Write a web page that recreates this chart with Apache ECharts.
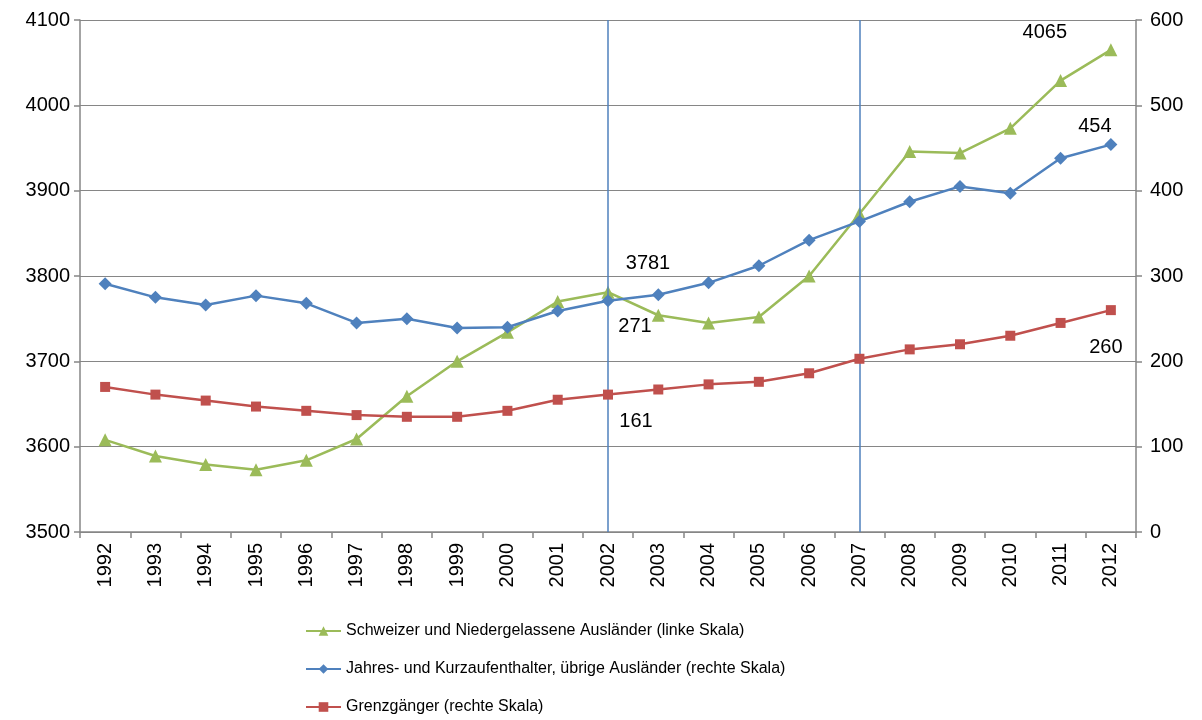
<!DOCTYPE html>
<html>
<head>
<meta charset="utf-8">
<script src="https://cdn.jsdelivr.net/npm/echarts@6/dist/echarts.min.js"></script>
<style>
    html, body { margin: 0; padding: 0; background: #fff; }
    #chart { width: 1202px; height: 720px; }
</style>
</head>
<body>
<div id="chart"></div>
<script>
var years = ['1992', '1993', '1994', '1995', '1996', '1997', '1998', '1999', '2000', '2001', '2002',
    '2003', '2004', '2005', '2006', '2007', '2008', '2009', '2010', '2011', '2012'];

// Schweizer und Niedergelassene Auslaender (linke Skala)
var schweizer = [3608, 3589, 3579, 3573, 3584, 3609, 3659, 3700, 3734, 3770, 3781,
    3754, 3745, 3752, 3800, 3873, 3946, 3944, 3973, 4029, 4065];
// Jahres- und Kurzaufenthalter (rechte Skala)
var aufenthalter = [291, 275, 266, 277, 268, 245, 250, 239, 240, 259, 271,
    278, 292, 312, 342, 364, 387, 405, 397, 438, 454];
// Grenzgaenger (rechte Skala)
var grenzgaenger = [170, 161, 154, 147, 142, 137, 135, 135, 142, 155, 161,
    167, 173, 176, 186, 203, 214, 220, 230, 245, 260];

var markYears = ['2002', '2007'];

var font = 'Liberation Sans';
var green = '#9BBB59', blue = '#4F81BD', red = '#C0504D';

// which points carry a value label, and where it sits relative to the point
function withLabels(values, labels) {
    return values.map(function (v, i) {
        if (!labels[i]) return v;
        return {
            value: v,
            label: {
                show: true,
                position: 'inside',
                offset: labels[i],
                color: '#000',
                fontSize: 20,
                fontFamily: font
            }
        };
    });
}

function plain(v) { return String(v); }

var myChart = echarts.init(document.getElementById('chart'));

myChart.setOption({
    animation: false,
    grid: { left: 80, right: 66, top: 20, bottom: 188 },
    legend: {
        orient: 'vertical',
        left: 305,
        top: 623,
        height: 97,
        padding: 0,
        itemGap: 22,
        itemWidth: 35,
        itemHeight: 12,
        textStyle: { fontFamily: font, fontSize: 16, color: '#000' },
        data: [
            'Schweizer und Niedergelassene Ausländer (linke Skala)',
            'Jahres- und Kurzaufenthalter, übrige Ausländer (rechte Skala)',
            'Grenzgänger (rechte Skala)'
        ]
    },
    xAxis: {
        type: 'category',
        data: years,
        boundaryGap: true,
        axisLine: { lineStyle: { color: '#868686', width: 1.5 } },
        axisTick: { show: true, length: 6, lineStyle: { color: '#868686', width: 1.5 } },
        axisLabel: { rotate: 90, fontFamily: font, fontSize: 20, color: '#000', margin: 11, interval: 0 }
    },
    yAxis: [
        {
            type: 'value',
            min: 3500, max: 4100, interval: 100,
            axisLine: { show: true, lineStyle: { color: '#868686', width: 1.5 } },
            axisTick: { show: true, length: 6, lineStyle: { color: '#868686', width: 1.5 } },
            splitLine: { lineStyle: { color: '#868686', width: 1.2 } },
            axisLabel: { fontFamily: font, fontSize: 20, color: '#000', margin: 10, formatter: plain }
        },
        {
            type: 'value',
            min: 0, max: 600, interval: 100,
            axisLine: { show: true, lineStyle: { color: '#868686', width: 1.5 } },
            axisTick: { show: true, length: 6, lineStyle: { color: '#868686', width: 1.5 } },
            splitLine: { show: false },
            axisLabel: { fontFamily: font, fontSize: 20, color: '#000', margin: 14, formatter: plain }
        }
    ],
    series: [
        {
            name: 'Schweizer und Niedergelassene Ausländer (linke Skala)',
            type: 'line',
            yAxisIndex: 0,
            data: withLabels(schweizer, { 10: [40, -29], 20: [-66, -17] }),
            symbol: 'triangle',
            symbolSize: 13,
            lineStyle: { color: green, width: 2.5 },
            itemStyle: { color: green },
            z: 3,
            markLine: {
                silent: true,
                symbol: 'none',
                label: { show: false },
                lineStyle: { color: blue, width: 1.5, type: 'solid' },
                data: markYears.map(function (y) { return { xAxis: y }; })
            }
        },
        {
            name: 'Jahres- und Kurzaufenthalter, übrige Ausländer (rechte Skala)',
            type: 'line',
            yAxisIndex: 1,
            data: withLabels(aufenthalter, { 10: [27, 26], 20: [-16, -18] }),
            symbol: 'diamond',
            symbolSize: 13,
            lineStyle: { color: blue, width: 2.5 },
            itemStyle: { color: blue },
            z: 4
        },
        {
            name: 'Grenzgänger (rechte Skala)',
            type: 'line',
            yAxisIndex: 1,
            data: withLabels(grenzgaenger, { 10: [28, 27], 20: [-5, 37] }),
            symbol: 'rect',
            symbolSize: 10,
            lineStyle: { color: red, width: 2.5 },
            itemStyle: { color: red },
            z: 5
        }
    ]
});
</script>
</body>
</html>
